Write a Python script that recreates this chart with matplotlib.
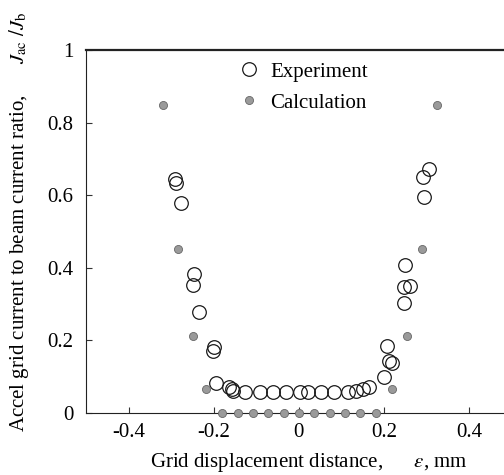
import matplotlib
matplotlib.use("Agg")
import matplotlib.pyplot as plt
import matplotlib as mpl

# Calculation (filled grey dots)
calc_x = [-0.320, -0.284, -0.249, -0.217,
          -0.180, -0.144, -0.108, -0.072, -0.036, 0.000,
          0.036, 0.072, 0.108, 0.144, 0.180,
          0.219, 0.254, 0.289, 0.325]
calc_y = [0.848, 0.451, 0.213, 0.065,
          0.0, 0.0, 0.0, 0.0, 0.0, 0.0,
          0.0, 0.0, 0.0, 0.0, 0.0,
          0.065, 0.213, 0.451, 0.848]

# Experiment (open circles)
exp_x = [-0.292, -0.289, -0.278, -0.246, -0.248, -0.235, -0.200, -0.202,
         -0.194, -0.164, -0.158, -0.154, -0.126, -0.091, -0.061, -0.030,
         0.002, 0.021, 0.051, 0.082, 0.115, 0.133, 0.150, 0.164,
         0.200, 0.206, 0.211, 0.219, 0.246, 0.248, 0.260, 0.250,
         0.293, 0.291, 0.305]
exp_y = [0.644, 0.633, 0.579, 0.383, 0.353, 0.279, 0.181, 0.171,
         0.083, 0.072, 0.066, 0.060, 0.058, 0.058, 0.058, 0.058,
         0.058, 0.058, 0.058, 0.058, 0.059, 0.061, 0.065, 0.072,
         0.100, 0.185, 0.144, 0.137, 0.304, 0.348, 0.350, 0.408,
         0.596, 0.651, 0.671]

x_ticks = [-0.4, -0.2, 0, 0.2, 0.4]
x_labels = ["-0.4", "-0.2", "0", "0.2", "0.4"]
y_ticks = [0, 0.2, 0.4, 0.6, 0.8, 1.0]
y_labels = ["0", "0.2", "0.4", "0.6", "0.8", "1"]

mpl.rcParams.update({
    "font.family": "serif",
    "font.serif": ["Liberation Serif", "DejaVu Serif"],
    "mathtext.fontset": "stix",
    "font.size": 15,
})

fig = plt.figure(figsize=(5.04, 4.75), dpi=100)
ax = fig.add_axes([0.1706, 0.1305, 0.8448, 0.7642])

ax.plot(exp_x, exp_y, linestyle="none", marker="o", markersize=9.8,
        markerfacecolor="none", markeredgecolor="#1a1a1a",
        markeredgewidth=0.9, label="Experiment", zorder=3)
ax.plot(calc_x, calc_y, linestyle="none", marker="o", markersize=5.8,
        markerfacecolor="#9a9a9a", markeredgecolor="#666666",
        markeredgewidth=0.6, label="Calculation", zorder=4, clip_on=False)

ax.set_xlim(-0.5, 0.5)
ax.set_ylim(0, 1)
ax.set_xticks(x_ticks)
ax.set_xticklabels(x_labels)
ax.set_yticks(y_ticks)
ax.set_yticklabels(y_labels)
ax.tick_params(direction="in", length=4, width=0.8, color="#333333")
ax.tick_params(axis="y", pad=9)
ax.tick_params(axis="x", pad=7)

ax.spines["right"].set_visible(False)
ax.spines["top"].set_linewidth(1.6)
ax.spines["left"].set_linewidth(0.8)
ax.spines["bottom"].set_linewidth(0.8)
for s in ax.spines.values():
    s.set_color("#222222")

ax.legend(loc="upper left", bbox_to_anchor=(241.0 / 504, 1 - 62.0 / 475),
          bbox_transform=fig.transFigure, frameon=False, borderpad=0,
          borderaxespad=0, handlelength=0.75, handletextpad=0.65,
          labelspacing=0.55)

fig.text(309 / 504, 1 - 463 / 475,
         r"Grid displacement distance,      $\varepsilon$, mm",
         ha="center", va="center")
fig.text(19 / 504, 1 - 222 / 475,
         r"Accel grid current to beam current ratio,      $J_{\rm ac}\ /J_{\rm b}$",
         ha="center", va="center", rotation=90)

fig.savefig("out.png", dpi=100)
